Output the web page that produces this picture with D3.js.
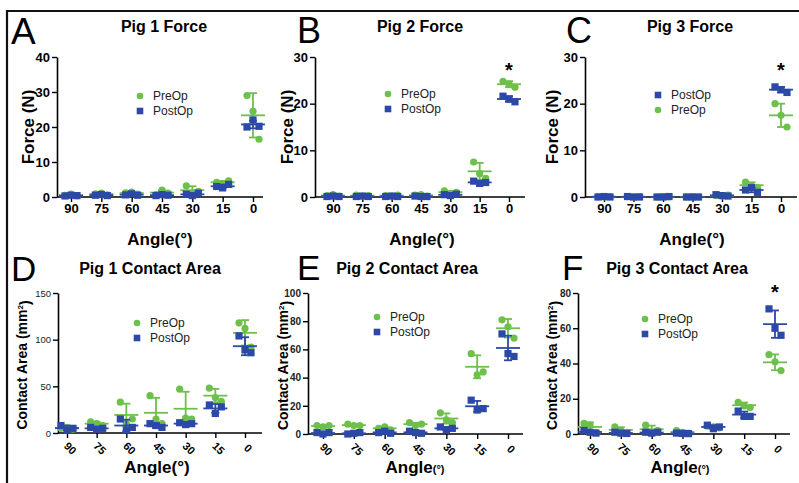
<!DOCTYPE html>
<html>
<head>
<meta charset="utf-8">
<script src="https://cdn.jsdelivr.net/npm/d3@7"></script>
<style>
  body { margin: 0; background: #fff; }
  text { font-family: "Liberation Sans", Arial, sans-serif; }
</style>
</head>
<body>
<div id="chart"></div>
<script>
// categories
var angles = ["90", "75", "60", "45", "30", "15", "0"];

var pig1ForcePre  = [[0.5,0.8,0.3],[0.9,1.1,0.6],[1.2,1.4,0.8],[0.7,2.0,1.1],[3.2,1.0,1.6],[4.2,3.8,4.6],[29,24.5,16.5]];
var pig1ForcePost = [[0.3,0.5,0.4],[0.5,0.7,0.4],[0.6,0.9,0.5],[0.4,0.7,0.5],[0.8,0.4,1.1],[3.0,2.6,3.6],[20,22,20.2]];
var pig2ForcePre  = [[0.3,0.5,0.2],[0.4,0.2,0.3],[0.3,0.2,0.4],[0.4,0.5,0.2],[1.3,0.8,1.0],[7.5,5.0,4.0],[24.8,24.2,23.5]];
var pig2ForcePost = [[0.1,0.2,0.1],[0.1,0.2,0.1],[0.1,0.2,0.1],[0.2,0.1,0.1],[0.5,0.3,0.6],[3.4,2.9,3.1],[21.6,21.0,20.4]];
var pig3ForcePre  = [[0.1,0.0,0.1],[0.1,0.0,0.1],[0.0,0.1,0.0],[0.0,0.1,0.0],[0.3,0.2,0.4],[3.2,2.4,2.0],[20,17.5,15]];
var pig3ForcePost = [[0.0,0.1,0.0],[0.1,0.0,0.0],[0.0,0.0,0.1],[0.0,0.0,0.0],[0.5,0.3,0.2],[1.5,2.0,1.0],[23.6,23.0,22.4]];
var pig1AreaPre   = [[5,6,4],[12,10,8],[33,10,15],[40,15,10],[47,16,15],[48,38,34],[118,112,92]];
var pig1AreaPost  = [[8,3,5],[6,4,5],[15,3,6],[10,8,6],[11,9,10],[30,21,28],[104,89,86]];
var pig2AreaPre   = [[6,5,6],[7,6,6],[4,5,3],[8,6,7],[15,10,8],[57,42,44],[81,76,68]];
var pig2AreaPost  = [[1,0,1],[0,0.5,1],[1,2,0.5],[2,1,0.5],[5,3,4],[24,17,18],[71,57,55]];
var pig3AreaPre   = [[6,5,1],[4,2,1],[5,1,2],[2,1,0.5],[4.5,4,3.5],[18,16,15],[45,41,36]];
var pig3AreaPost  = [[2,1,0.5],[1,0.5,0.3],[1,0.5,1],[0.5,0.3,0.2],[5,3,4],[13,10,10],[71,60,56]];

// y tick labels
var forceTicks40 = [0, 10, 20, 30, 40];
var forceTicks30 = [0, 10, 20, 30];
var area1Ticks = [0, 50, 100, 150];
var area2Ticks = [0, 20, 40, 60, 80, 100];
var area3Ticks = [0, 20, 40, 60, 80];

var green = "#6dc04a", blue = "#2c49a8";
var jitter = [-6, 0, 6];

var svg = d3.select("#chart").append("svg")
    .attr("width", 799)
    .attr("height", 483);

// outer frame (top and left edges only)
svg.append("path")
    .attr("d", "M7,483 L7,11 L799,11")
    .attr("fill", "none")
    .attr("stroke", "#111")
    .attr("stroke-width", 2.2);

var panels = [
  {letter:"A", lx:11, ly:44, lsize:37, title:"Pig 1 Force", tx:164, ty:32, x0:57, x1:263, first:71, last:253, y0:197, yTop:57,
   max:40, ticks:forceTicks40, pre:pig1ForcePre, post:pig1ForcePost, ylab:"Force (N)", ylx:28, lgx:140, lgy:96, preFirst:true,
   ax:160, ay:245, star:null, rotate:false},
  {letter:"B", lx:297, ly:43, lsize:36, title:"Pig 2 Force", tx:420, ty:32, x0:315, x1:525, first:333, last:509, y0:197, yTop:57,
   max:30, ticks:forceTicks30, pre:pig2ForcePre, post:pig2ForcePost, ylab:"Force (N)", ylx:287, lgx:388, lgy:94, preFirst:true,
   ax:422, ay:245, star:6, rotate:false},
  {letter:"C", lx:566, ly:43, lsize:36, title:"Pig 3 Force", tx:690, ty:32, x0:585, x1:797, first:604, last:781, y0:197, yTop:57,
   max:30, ticks:forceTicks30, pre:pig3ForcePre, post:pig3ForcePost, ylab:"Force (N)", ylx:552, lgx:658, lgy:95, preFirst:false,
   ax:692, ay:245, star:6, rotate:false},
  {letter:"D", lx:11, ly:281, lsize:35, title:"Pig 1 Contact Area", tx:150, ty:274, x0:58, x1:262, first:67, last:245, y0:433, yTop:293,
   max:150, ticks:area1Ticks, pre:pig1AreaPre, post:pig1AreaPost, ylab:"Contact Area (mm", ylx:22, lgx:137, lgy:323, preFirst:true,
   ax:157, ay:473, star:null, rotate:true, tickBold:false, smallDeg:false},
  {letter:"E", lx:297, ly:280, lsize:35, title:"Pig 2 Contact Area", tx:407, ty:274, x0:308, x1:523, first:323, last:508, y0:434, yTop:293,
   max:100, ticks:area2Ticks, pre:pig2AreaPre, post:pig2AreaPost, ylab:"Contact Area (mm", ylx:283, lgx:377, lgy:317, preFirst:true,
   ax:415, ay:473, star:null, rotate:true, tickBold:true, smallDeg:true},
  {letter:"F", lx:562, ly:280, lsize:35, title:"Pig 3 Contact Area", tx:677, ty:274, x0:578, x1:790, first:590, last:775, y0:434, yTop:293,
   max:80, ticks:area3Ticks, pre:pig3AreaPre, post:pig3AreaPost, ylab:"Contact Area (mm", ylx:552, lgx:645, lgy:319, preFirst:true,
   ax:680, ay:473, star:6, rotate:true, tickBold:true, smallDeg:true}
];

panels.forEach(drawPanel);

function drawPanel(p) {
  var g = svg.append("g");

  var x = d3.scalePoint().domain(angles).range([p.first, p.last]);
  var y = d3.scaleLinear().domain([0, p.max]).range([p.y0, p.yTop]);

  // panel letter and title
  g.append("text")
      .attr("x", p.lx).attr("y", p.ly)
      .style("font-size", p.lsize + "px")
      .text(p.letter);

  g.append("text")
      .attr("x", p.tx).attr("y", p.ty)
      .attr("text-anchor", "middle")
      .style("font-size", "16px").style("font-weight", "bold")
      .text(p.title);

  // y axis
  var yAxis = d3.axisLeft(y).tickValues(p.ticks).tickSize(5).tickSizeOuter(0).tickPadding(2);
  var ya = g.append("g")
      .attr("transform", "translate(" + p.x0 + ",0)")
      .call(yAxis);
  ya.select(".domain").attr("stroke-width", 1.6);
  ya.selectAll(".tick line").attr("stroke-width", 1.4);
  if (p.rotate) {
    ya.selectAll(".tick text")
        .style("font-size", p.tickBold ? "10px" : "9.5px")
        .style("font-weight", p.tickBold ? "bold" : "normal")
        .attr("fill", "#222");
  } else {
    ya.selectAll(".tick text").style("font-size", "13px").style("font-weight", "bold");
  }

  // x axis
  var xAxis = d3.axisBottom(x).tickSize(5).tickSizeOuter(0).tickPadding(p.rotate ? 3 : 2);
  var xa = g.append("g")
      .attr("transform", "translate(0," + p.y0 + ")")
      .call(xAxis);
  xa.select(".domain").remove();
  xa.selectAll(".tick line").attr("stroke-width", 1.4);
  xa.append("line")
      .attr("x1", p.x0).attr("x2", p.x1)
      .attr("stroke", "#000").attr("stroke-width", 1.6);
  if (p.rotate) {
    xa.selectAll(".tick text")
        .style("font-size", "11px").style("font-weight", "bold")
        .attr("y", 0).attr("dy", 0)
        .attr("text-anchor", "middle")
        .attr("transform", "translate(0,18) rotate(45)");
  } else {
    xa.selectAll(".tick text").style("font-size", "13px").style("font-weight", "bold");
  }

  // axis titles
  var xl = g.append("text")
      .attr("x", p.ax).attr("y", p.ay)
      .attr("text-anchor", "middle")
      .style("font-size", "17px").style("font-weight", "bold");
  if (p.smallDeg) {
    xl.append("tspan").text("Angle");
    xl.append("tspan").style("font-size", "11px").text("(°)");
  } else {
    xl.text("Angle(°)");
  }

  var ymid = (p.y0 + p.yTop) / 2 + (p.rotate ? 2 : 0);
  var yl = g.append("text")
      .attr("transform", "translate(" + p.ylx + "," + ymid + ") rotate(-90)")
      .attr("text-anchor", "middle")
      .attr("dy", "0.35em")
      .style("font-weight", "bold")
      .style("font-size", p.rotate ? "14px" : "17px");
  if (p.rotate) {
    yl.append("tspan").text(p.ylab);
    yl.append("tspan").attr("dy", "-0.45em").style("font-size", "8px").text("2");
    yl.append("tspan").attr("dy", "0.45em").text(")");
  } else {
    yl.text(p.ylab);
  }

  // series
  var series = [
    {name: "PreOp", color: green, shape: "circle", values: p.pre},
    {name: "PostOp", color: blue, shape: "square", values: p.post}
  ];

  series.forEach(function(s) {
    var sg = g.append("g");
    var groups = s.values.map(function(v, i) {
      return {angle: angles[i], vals: v, mean: d3.mean(v), sd: d3.deviation(v)};
    });

    // points
    groups.forEach(function(d) {
      d.vals.forEach(function(v, j) {
        var cx = x(d.angle) + jitter[j], cy = y(v);
        if (s.shape === "circle") {
          sg.append("circle").attr("cx", cx).attr("cy", cy).attr("r", 3.6).attr("fill", s.color);
        } else {
          sg.append("rect").attr("x", cx - 3.6).attr("y", cy - 3.6)
            .attr("width", 7.2).attr("height", 7.2).attr("fill", s.color);
        }
      });
    });

    // mean and SD bars
    var bars = sg.selectAll(".bar").data(groups).enter().append("g")
        .attr("stroke", s.color).attr("stroke-width", 1.8);
    bars.append("line")
        .attr("x1", function(d) { return x(d.angle) - 12; })
        .attr("x2", function(d) { return x(d.angle) + 12; })
        .attr("y1", function(d) { return y(d.mean); })
        .attr("y2", function(d) { return y(d.mean); });
    bars.append("line")
        .attr("x1", function(d) { return x(d.angle); })
        .attr("x2", function(d) { return x(d.angle); })
        .attr("y1", function(d) { return y(Math.max(0, d.mean - d.sd)); })
        .attr("y2", function(d) { return y(d.mean + d.sd); });
    bars.append("line")
        .attr("x1", function(d) { return x(d.angle) - 4; })
        .attr("x2", function(d) { return x(d.angle) + 4; })
        .attr("y1", function(d) { return y(d.mean + d.sd); })
        .attr("y2", function(d) { return y(d.mean + d.sd); });
    bars.append("line")
        .attr("x1", function(d) { return x(d.angle) - 4; })
        .attr("x2", function(d) { return x(d.angle) + 4; })
        .attr("y1", function(d) { return y(Math.max(0, d.mean - d.sd)); })
        .attr("y2", function(d) { return y(Math.max(0, d.mean - d.sd)); });
  });

  // legend
  var order = p.preFirst ? series : [series[1], series[0]];
  order.forEach(function(s, i) {
    var ly = p.lgy + i * 15;
    if (s.shape === "circle") {
      g.append("circle").attr("cx", p.lgx).attr("cy", ly).attr("r", 3.3).attr("fill", s.color);
    } else {
      g.append("rect").attr("x", p.lgx - 3.3).attr("y", ly - 3.3)
        .attr("width", 6.6).attr("height", 6.6).attr("fill", s.color);
    }
    g.append("text")
        .attr("x", p.lgx + 13).attr("y", ly)
        .attr("dy", "0.35em")
        .style("font-size", "12px")
        .attr("fill", "#222")
        .text(s.name);
  });

  // significance marker
  if (p.star !== null) {
    g.append("text")
        .attr("x", x(angles[p.star]))
        .attr("y", p.rotate ? p.yTop + 6 : p.yTop + 20)
        .attr("text-anchor", "middle")
        .style("font-size", "20px").style("font-weight", "bold")
        .text("*");
  }
}
</script>
</body>
</html>
